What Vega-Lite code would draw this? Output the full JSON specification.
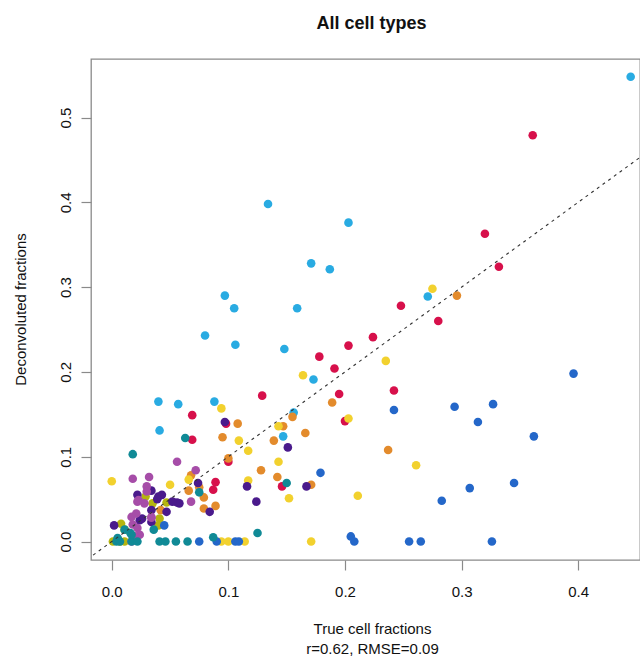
{
  "$schema": "https://vega.github.io/schema/vega-lite/v6.json",
  "autosize": {"type": "none"},
  "width": 549,
  "height": 501,
  "padding": {"left": 91, "top": 59, "right": 0, "bottom": 96},
  "background": "white",
  "config": {
    "font": "Liberation Sans",
    "view": {"stroke": "#8a8a8a", "strokeWidth": 1.3},
    "axis": {"grid": false, "domain": false, "tickColor": "#8a8a8a", "tickWidth": 1.2, "tickSize": 10, "labelFontSize": 15, "labelColor": "#111", "titleFontSize": 15, "titleFontWeight": "normal", "titleColor": "#111", "labelFont": "Liberation Sans", "titleFont": "Liberation Sans"}
  },
  "title": {"text": "All cell types", "fontSize": 18, "fontWeight": "bold", "font": "Liberation Sans", "anchor": "middle", "baseline": "alphabetic", "offset": 33, "dx": 6, "dy": 21, "color": "#111"},
  "layer": [
    {
      "data": {"values": [
        {"x":0.040,"y":0.165,"t":"LB"},{"x":0.057,"y":0.162,"t":"LB"},{"x":0.088,"y":0.165,"t":"LB"},{"x":0.041,"y":0.131,"t":"LB"},{"x":0.134,"y":0.398,"t":"LB"},{"x":0.097,"y":0.290,"t":"LB"},{"x":0.105,"y":0.275,"t":"LB"},{"x":0.080,"y":0.243,"t":"LB"},{"x":0.106,"y":0.232,"t":"LB"},{"x":0.148,"y":0.227,"t":"LB"},{"x":0.203,"y":0.376,"t":"LB"},{"x":0.171,"y":0.328,"t":"LB"},{"x":0.187,"y":0.321,"t":"LB"},{"x":0.159,"y":0.275,"t":"LB"},{"x":0.271,"y":0.289,"t":"LB"},{"x":0.173,"y":0.191,"t":"LB"},{"x":0.156,"y":0.152,"t":"LB"},{"x":0.147,"y":0.124,"t":"LB"},{"x":0.445,"y":0.548,"t":"LB"},
        {"x":0.129,"y":0.172,"t":"CR"},{"x":0.069,"y":0.149,"t":"CR"},{"x":0.098,"y":0.139,"t":"CR"},{"x":0.069,"y":0.120,"t":"CR"},{"x":0.100,"y":0.094,"t":"CR"},{"x":0.089,"y":0.070,"t":"CR"},{"x":0.087,"y":0.061,"t":"CR"},{"x":0.146,"y":0.065,"t":"CR"},{"x":0.195,"y":0.174,"t":"CR"},{"x":0.242,"y":0.178,"t":"CR"},{"x":0.200,"y":0.142,"t":"CR"},{"x":0.248,"y":0.278,"t":"CR"},{"x":0.280,"y":0.260,"t":"CR"},{"x":0.224,"y":0.241,"t":"CR"},{"x":0.203,"y":0.231,"t":"CR"},{"x":0.178,"y":0.218,"t":"CR"},{"x":0.191,"y":0.204,"t":"CR"},{"x":0.361,"y":0.479,"t":"CR"},{"x":0.320,"y":0.363,"t":"CR"},{"x":0.332,"y":0.324,"t":"CR"},
        {"x":0.108,"y":0.139,"t":"OR"},{"x":0.095,"y":0.123,"t":"OR"},{"x":0.100,"y":0.098,"t":"OR"},{"x":0.068,"y":0.078,"t":"OR"},{"x":0.075,"y":0.064,"t":"OR"},{"x":0.066,"y":0.060,"t":"OR"},{"x":0.079,"y":0.052,"t":"OR"},{"x":0.089,"y":0.042,"t":"OR"},{"x":0.079,"y":0.039,"t":"OR"},{"x":0.042,"y":0.037,"t":"OR"},{"x":0.128,"y":0.084,"t":"OR"},{"x":0.139,"y":0.119,"t":"OR"},{"x":0.142,"y":0.076,"t":"OR"},{"x":0.147,"y":0.136,"t":"OR"},{"x":0.155,"y":0.147,"t":"OR"},{"x":0.166,"y":0.128,"t":"OR"},{"x":0.171,"y":0.067,"t":"OR"},{"x":0.237,"y":0.108,"t":"OR"},{"x":0.189,"y":0.164,"t":"OR"},{"x":0.296,"y":0.290,"t":"OR"},
        {"x":0.094,"y":0.157,"t":"YE"},{"x":0.109,"y":0.119,"t":"YE"},{"x":0.117,"y":0.107,"t":"YE"},{"x":0.066,"y":0.073,"t":"YE"},{"x":0.000,"y":0.071,"t":"YE"},{"x":0.050,"y":0.067,"t":"YE"},{"x":0.117,"y":0.072,"t":"YE"},{"x":0.143,"y":0.094,"t":"YE"},{"x":0.143,"y":0.136,"t":"YE"},{"x":0.152,"y":0.051,"t":"YE"},{"x":0.171,"y":0.000,"t":"YE"},{"x":0.094,"y":0.000,"t":"YE"},{"x":0.100,"y":0.000,"t":"YE"},{"x":0.114,"y":0.000,"t":"YE"},{"x":0.275,"y":0.298,"t":"YE"},{"x":0.235,"y":0.213,"t":"YE"},{"x":0.164,"y":0.196,"t":"YE"},{"x":0.203,"y":0.145,"t":"YE"},{"x":0.261,"y":0.090,"t":"YE"},{"x":0.211,"y":0.054,"t":"YE"},
        {"x":0.029,"y":0.053,"t":"OL"},{"x":0.035,"y":0.045,"t":"OL"},{"x":0.047,"y":0.046,"t":"OL"},{"x":0.041,"y":0.027,"t":"OL"},{"x":0.040,"y":0.019,"t":"OL"},{"x":0.008,"y":0.021,"t":"OL"},{"x":0.011,"y":0.014,"t":"OL"},{"x":0.001,"y":0.000,"t":"OL"},{"x":0.007,"y":0.000,"t":"OL"},{"x":0.011,"y":0.000,"t":"OL"},{"x":0.005,"y":0.003,"t":"OL"},
        {"x":0.045,"y":0.019,"t":"BL"},{"x":0.075,"y":0.000,"t":"BL"},{"x":0.090,"y":0.000,"t":"BL"},{"x":0.106,"y":0.000,"t":"BL"},{"x":0.109,"y":0.000,"t":"BL"},{"x":0.179,"y":0.081,"t":"BL"},{"x":0.242,"y":0.155,"t":"BL"},{"x":0.294,"y":0.159,"t":"BL"},{"x":0.314,"y":0.141,"t":"BL"},{"x":0.327,"y":0.162,"t":"BL"},{"x":0.362,"y":0.124,"t":"BL"},{"x":0.396,"y":0.198,"t":"BL"},{"x":0.307,"y":0.063,"t":"BL"},{"x":0.345,"y":0.069,"t":"BL"},{"x":0.283,"y":0.048,"t":"BL"},{"x":0.205,"y":0.006,"t":"BL"},{"x":0.208,"y":0.000,"t":"BL"},{"x":0.255,"y":0.000,"t":"BL"},{"x":0.265,"y":0.000,"t":"BL"},{"x":0.326,"y":0.000,"t":"BL"},
        {"x":0.097,"y":0.141,"t":"DP"},{"x":0.074,"y":0.069,"t":"DP"},{"x":0.084,"y":0.035,"t":"DP"},{"x":0.124,"y":0.047,"t":"DP"},{"x":0.116,"y":0.065,"t":"DP"},{"x":0.151,"y":0.111,"t":"DP"},{"x":0.167,"y":0.065,"t":"DP"},{"x":0.058,"y":0.045,"t":"DP"},{"x":0.002,"y":0.019,"t":"DP"},{"x":0.022,"y":0.055,"t":"DP"},{"x":0.034,"y":0.060,"t":"DP"},{"x":0.040,"y":0.053,"t":"DP"},{"x":0.043,"y":0.055,"t":"DP"},{"x":0.039,"y":0.050,"t":"DP"},{"x":0.047,"y":0.035,"t":"DP"},{"x":0.056,"y":0.046,"t":"DP"},{"x":0.052,"y":0.047,"t":"DP"},{"x":0.034,"y":0.023,"t":"DP"},{"x":0.024,"y":0.025,"t":"DP"},{"x":0.034,"y":0.037,"t":"DP"},{"x":0.026,"y":0.027,"t":"DP"},
        {"x":0.056,"y":0.094,"t":"MG"},{"x":0.072,"y":0.084,"t":"MG"},{"x":0.068,"y":0.047,"t":"MG"},{"x":0.018,"y":0.074,"t":"MG"},{"x":0.032,"y":0.076,"t":"MG"},{"x":0.030,"y":0.065,"t":"MG"},{"x":0.030,"y":0.059,"t":"MG"},{"x":0.022,"y":0.047,"t":"MG"},{"x":0.028,"y":0.045,"t":"MG"},{"x":0.034,"y":0.029,"t":"MG"},{"x":0.017,"y":0.029,"t":"MG"},{"x":0.021,"y":0.033,"t":"MG"},{"x":0.018,"y":0.020,"t":"MG"},{"x":0.022,"y":0.016,"t":"MG"},{"x":0.024,"y":0.008,"t":"MG"},{"x":0.017,"y":0.000,"t":"MG"},{"x":0.020,"y":0.006,"t":"MG"},{"x":0.023,"y":0.049,"t":"MG"},{"x":0.034,"y":0.028,"t":"MG"},
        {"x":0.018,"y":0.103,"t":"TL"},{"x":0.063,"y":0.122,"t":"TL"},{"x":0.075,"y":0.058,"t":"TL"},{"x":0.150,"y":0.069,"t":"TL"},{"x":0.125,"y":0.010,"t":"TL"},{"x":0.087,"y":0.005,"t":"TL"},{"x":0.041,"y":0.000,"t":"TL"},{"x":0.046,"y":0.000,"t":"TL"},{"x":0.055,"y":0.000,"t":"TL"},{"x":0.065,"y":0.000,"t":"TL"},{"x":0.004,"y":0.000,"t":"TL"},{"x":0.007,"y":0.000,"t":"TL"},{"x":0.017,"y":0.000,"t":"TL"},{"x":0.022,"y":0.000,"t":"TL"},{"x":0.016,"y":0.010,"t":"TL"},{"x":0.036,"y":0.014,"t":"TL"},{"x":0.011,"y":0.014,"t":"TL"},{"x":0.017,"y":0.008,"t":"TL"},{"x":0.005,"y":0.004,"t":"TL"}
      ]},
      "mark": {"type": "circle", "size": 74, "opacity": 1, "clip": true},
      "encoding": {
        "x": {"field": "x", "type": "quantitative", "scale": {"domain": [-0.0178, 0.453], "nice": false, "zero": false},
          "axis": {"values": [0, 0.1, 0.2, 0.3, 0.4], "format": ".1f", "labelPadding": 26, "labelBaseline": "alphabetic", "labelAlign": "center", "labelFlush": false,
            "title": ["True cell fractions", "r=0.62, RMSE=0.09"], "titleLineHeight": 20, "titleBaseline": "alphabetic", "titleAlign": "center", "titleAnchor": "start", "titleX": 281, "titleY": 73}},
        "y": {"field": "y", "type": "quantitative", "scale": {"domain": [-0.0218, 0.569], "nice": false, "zero": false},
          "axis": {"values": [0, 0.1, 0.2, 0.3, 0.4, 0.5], "format": ".1f", "labelAngle": 270, "labelAlign": "center", "labelBaseline": "alphabetic", "labelPadding": 11, "labelFlush": false,
            "title": "Deconvoluted fractions", "titleAngle": 270, "titleAlign": "center", "titleBaseline": "alphabetic", "titleAnchor": "start", "titleX": -66, "titleY": 250}},
        "color": {"field": "t", "type": "nominal", "legend": null,
          "scale": {"domain": ["LB","CR","OR","YE","OL","BL","DP","MG","TL"],
                    "range": ["#29ABE2","#D7104B","#E38B2C","#F2D12E","#B5B50F","#2467C9","#4A1A8C","#A64DA8","#108A96"]}}
      }
    },
    {
      "data": {"values": [{"x": -0.05, "y": -0.05}, {"x": 0.6, "y": 0.6}]},
      "mark": {"type": "line", "clip": true, "color": "#333", "strokeWidth": 1.1, "strokeDash": [3, 4]},
      "encoding": {
        "x": {"field": "x", "type": "quantitative"},
        "y": {"field": "y", "type": "quantitative"}
      }
    }
  ]
}
